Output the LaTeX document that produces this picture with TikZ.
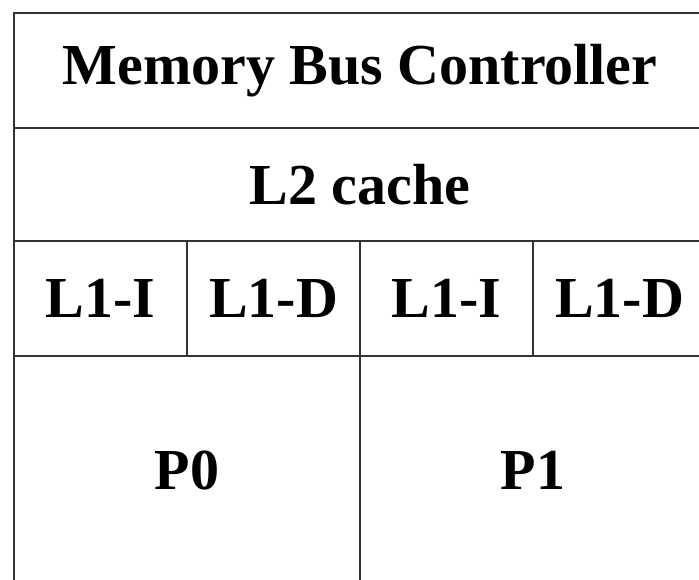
\documentclass[tikz,border=0pt]{standalone}
\usepackage{fontspec}
\setmainfont{Liberation Serif}
\begin{document}
\begin{tikzpicture}[x=1pt,y=-1pt,
  cell/.style={draw=black!80,line width=2pt,inner sep=0pt,anchor=north west,
    font=\fontsize{58}{60}\selectfont\bfseries},
]
\useasboundingbox (0,0) rectangle (699,580);
\clip (0,0) rectangle (699,580);
\node[cell,minimum width=692pt,minimum height=115pt] (mbc) at (13,12) {Memory Bus Controller};
\node[cell,minimum width=692pt,minimum height=113pt] (l2) at (13,127) {L2 cache};
\node[cell,minimum width=173pt,minimum height=115pt] (i0) at (13,240) {L1-I};
\node[cell,minimum width=173pt,minimum height=115pt] (d0) at (186,240) {L1-D};
\node[cell,minimum width=173pt,minimum height=115pt] (i1) at (359,240) {L1-I};
\node[cell,minimum width=173pt,minimum height=115pt] (d1) at (532,240) {L1-D};
\node[cell,minimum width=346pt,minimum height=228pt] (p0) at (13,355) {P0};
\node[cell,minimum width=346pt,minimum height=228pt] (p1) at (359,355) {P1};
\end{tikzpicture}
\end{document}
